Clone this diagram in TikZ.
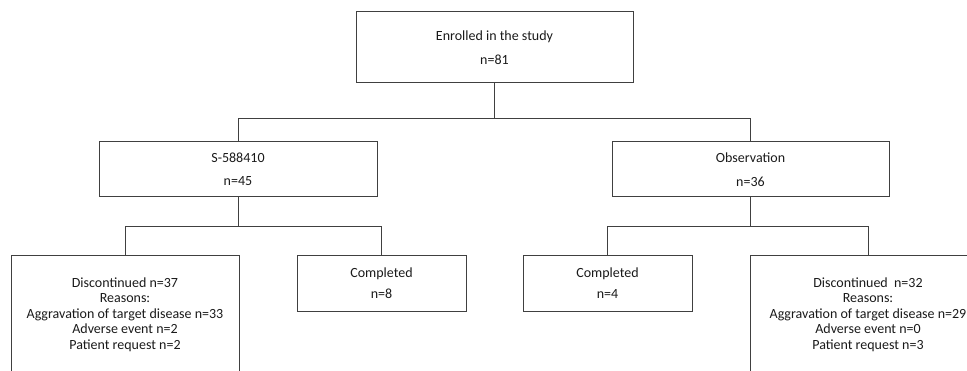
\documentclass[tikz,border=0pt]{standalone}
\usepackage{fontspec}
\setmainfont{Carlito}
\usepackage{tikz}
\usetikzlibrary{positioning}
\definecolor{my_darkgray}{HTML}{404040}
\definecolor{my_text}{HTML}{1A1A1A}

\begin{document}
\begin{tikzpicture}[
    x=1pt, y=1pt,
    box/.style={draw=my_darkgray, line width=1pt, align=center, inner sep=0pt,
        font=\fontsize{14}{15.5}\selectfont, text=my_text},
    link/.style={draw=my_darkgray, line width=1pt}
]

% ----------------------------------------------------------
% Rahmen (Bild ist unten und rechts abgeschnitten)
% ----------------------------------------------------------
\useasboundingbox (0,0) rectangle (967,370);
\clip (0,0) rectangle (967,370);

% ----------------------------------------------------------
% Kaesten
% ----------------------------------------------------------
\node[box, minimum width=277, minimum height=71] (enrolled) at (494.5,322.5)
    {Enrolled in the study\\[8pt] n=81};

\node[box, minimum width=278, minimum height=55] (drug) at (238,200.5)
    {S-588410\\[8pt] n=45};
\node[box, minimum width=277, minimum height=55] (obs) at (750.5,200.5)
    {Observation\\[8pt] n=36};

\node[box, minimum width=228, minimum height=119] (drugdisc) at (125,55.5)
    {Discontinued n=37\\ Reasons:\\ Aggravation of target disease n=33\\
     Adverse event n=2\\ Patient request n=2};
\node[box, minimum width=169, minimum height=56] (drugcomp) at (381.5,87)
    {Completed\\[6pt] n=8};

\node[box, minimum width=169, minimum height=56] (obscomp) at (607.5,87)
    {Completed\\[6pt] n=4};
\node[box, minimum width=236, minimum height=119] (obsdisc) at (868,55.5)
    {Discontinued\ \ n=32\\ Reasons:\\ Aggravation of target disease n=29\\
     Adverse event n=0\\ Patient request n=3};

% ----------------------------------------------------------
% Verbindungen
% ----------------------------------------------------------
\draw[link] (enrolled.south) -- ++(0,-35) -| (drug.north);
\draw[link] (enrolled.south) -- ++(0,-35) -| (obs.north);

\draw[link] (drug.south) -- ++(0,-29) -| (drugdisc.north);
\draw[link] (drug.south) -- ++(0,-29) -| (drugcomp.north);

\draw[link] (obs.south) -- ++(0,-29) -| (obscomp.north);
\draw[link] (obs.south) -- ++(0,-29) -| (obsdisc.north);

\end{tikzpicture}
\end{document}
